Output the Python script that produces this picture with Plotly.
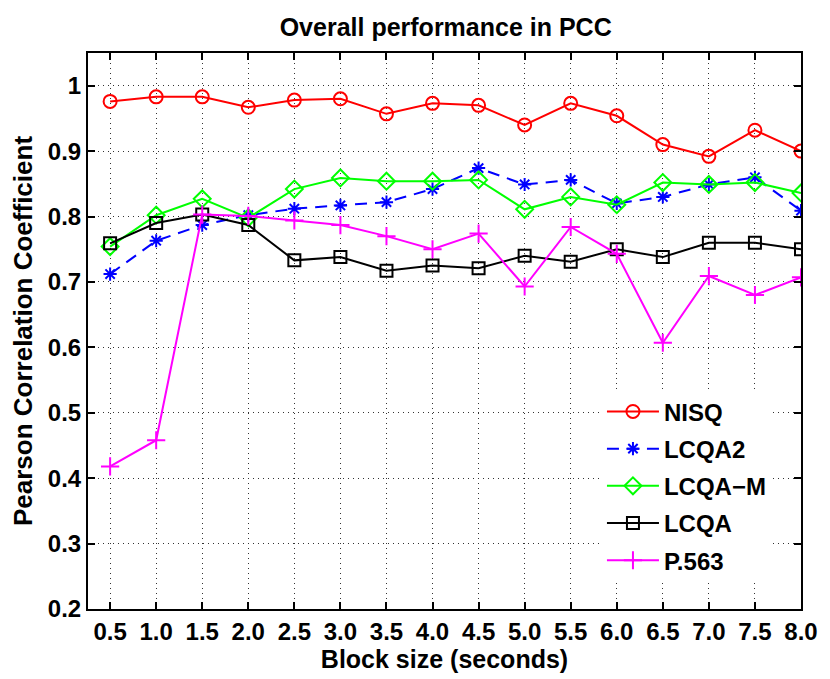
import plotly.graph_objects as go

block_size = [0.5, 1.0, 1.5, 2.0, 2.5, 3.0, 3.5, 4.0, 4.5, 5.0, 5.5, 6.0, 6.5, 7.0, 7.5, 8.0]
x_tick_labels = ["0.5", "1.0", "1.5", "2.0", "2.5", "3.0", "3.5", "4.0",
                 "4.5", "5.0", "5.5", "6.0", "6.5", "7.0", "7.5", "8.0"]
y_tick_vals = [0.2, 0.3, 0.4, 0.5, 0.6, 0.7, 0.8, 0.9, 1.0]
y_tick_labels = ["0.2", "0.3", "0.4", "0.5", "0.6", "0.7", "0.8", "0.9", "1"]

nisq = [0.976, 0.983, 0.983, 0.967, 0.978, 0.980, 0.957, 0.973,
        0.970, 0.940, 0.973, 0.954, 0.910, 0.892, 0.932, 0.900]
lcqa2 = [0.712, 0.763, 0.787, 0.802, 0.812, 0.817, 0.822, 0.842,
         0.874, 0.849, 0.856, 0.820, 0.830, 0.849, 0.860, 0.809]
lcqa_m = [0.754, 0.802, 0.827, 0.798, 0.842, 0.859, 0.854, 0.854,
          0.856, 0.811, 0.830, 0.818, 0.852, 0.849, 0.852, 0.836]
lcqa = [0.759, 0.790, 0.803, 0.787, 0.733, 0.738, 0.717, 0.725,
        0.721, 0.740, 0.731, 0.750, 0.738, 0.760, 0.760, 0.750]
p563 = [0.418, 0.458, 0.803, 0.801, 0.794, 0.787, 0.770, 0.750,
        0.774, 0.693, 0.784, 0.743, 0.607, 0.709, 0.680, 0.707]

FONT = "Liberation Sans, Arial, Helvetica, sans-serif"

series = [
    ("NISQ", nisq, "#ff0000", "circle-open", "solid", 13),
    ("LCQA2", lcqa2, "#0000ff", "asterisk-open", "12px,8px", 11),
    ("LCQA\u2212M", lcqa_m, "#00ff00", "diamond-open", "solid", 13),
    ("LCQA", lcqa, "#000000", "square-open", "solid", 12),
    ("P.563", p563, "#ff00ff", "cross-thin-open", "solid", 13),
]

fig = go.Figure()
for i, (name, vals, color, sym, dash, msize) in enumerate(series):
    fig.add_trace(go.Scatter(
        x=block_size, y=vals, name=name, mode="lines+markers",
        legendgroup=f"g{i}",
        line=dict(color=color, width=2, dash=dash),
        marker=dict(symbol=sym, size=msize, color=color,
                    line=dict(color=color, width=2)),
    ))

axis_common = dict(
    showline=True, linecolor="black", linewidth=2, mirror="ticks",
    ticks="inside", ticklen=7, tickwidth=1.5, tickcolor="black",
    showgrid=True, gridcolor="#333333", gridwidth=1, griddash="1px,4px",
    zeroline=False,
    tickfont=dict(family=FONT, size=24, color="black", weight="bold"),
)

fig.update_xaxes(
    range=[0.26, 8.0], tickvals=block_size, ticktext=x_tick_labels,
    title=dict(text="Block size (seconds)", standoff=5,
               font=dict(family=FONT, size=25, color="black", weight="bold")),
    **axis_common,
)
fig.update_yaxes(
    range=[0.2, 1.05], tickvals=y_tick_vals, ticktext=y_tick_labels,
    title=dict(text="Pearson Correlation Coefficient", standoff=8,
               font=dict(family=FONT, size=26, color="black", weight="bold")),
    **axis_common,
)

fig.update_layout(
    width=830, height=679,
    margin=dict(l=88, r=22, t=53, b=59),
    paper_bgcolor="white", plot_bgcolor="white",
    title=dict(text="Overall performance in PCC", x=0.537, xanchor="center",
               y=0.96, yanchor="middle",
               font=dict(family=FONT, size=25, color="black", weight="bold")),
    showlegend=True,
    legend=dict(
        x=(607 - 88) / 720, y=(620 - 396) / 567, xanchor="left", yanchor="top",
        bgcolor="white", borderwidth=0, itemwidth=52,
        font=dict(family=FONT, size=24, color="black", weight="bold"),
        tracegroupgap=3, traceorder="grouped",
    ),
)

fig.write_html("out.html")
